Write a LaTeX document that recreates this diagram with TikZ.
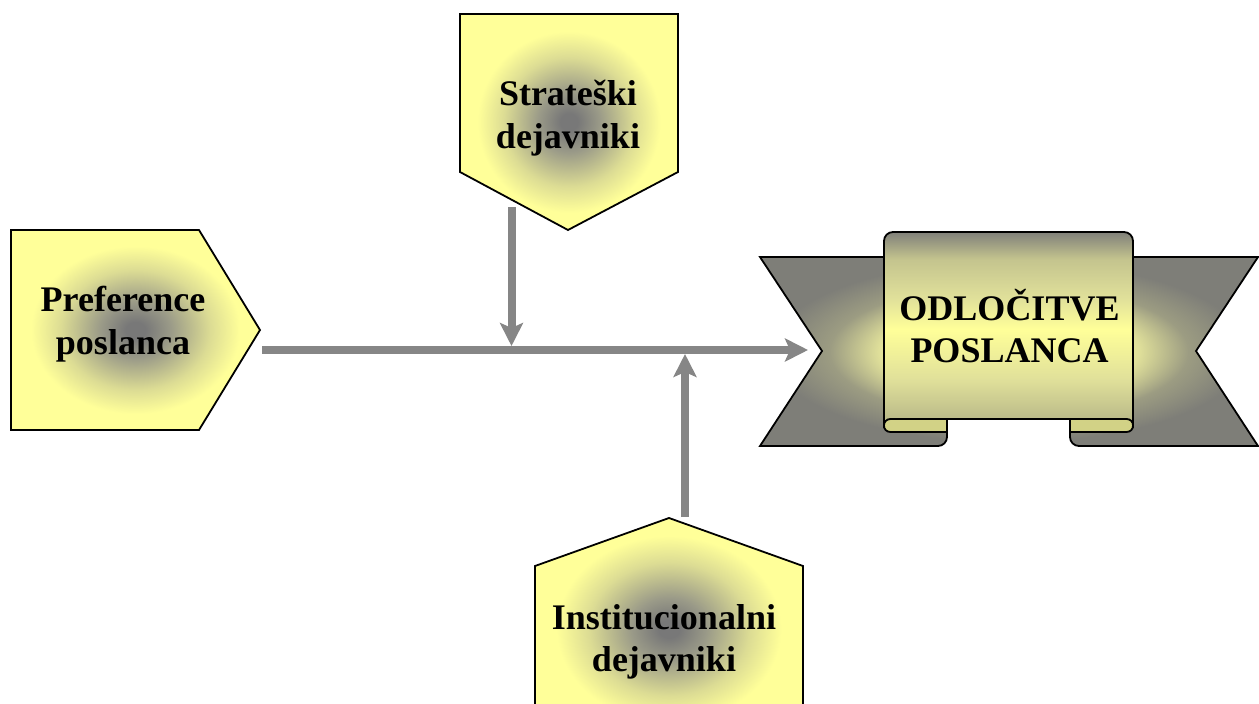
\documentclass[tikz,border=0pt]{standalone}
\usepackage{fontspec}
\setmainfont{Liberation Serif}
\usetikzlibrary{arrows.meta}
\definecolor{pyel}{HTML}{FFFF99}
\definecolor{pgray}{HTML}{787878}
\definecolor{pgray2}{HTML}{9A9A88}
\definecolor{pmid}{HTML}{DCDC94}
\definecolor{rgray}{HTML}{7E7E78}
\definecolor{rolive}{HTML}{9C9C82}
\definecolor{rlight}{HTML}{E0E09A}
\definecolor{ptop}{HTML}{80807A}
\definecolor{pup}{HTML}{C4C48E}
\definecolor{pbot}{HTML}{B4B486}
\definecolor{rollc}{HTML}{D2D286}
\definecolor{agray}{HTML}{868686}
\pgfdeclareradialshading{pentshade}{\pgfpoint{0bp}{0bp}}{color(0bp)=(pgray); color(2bp)=(pgray); color(7bp)=(pgray2); color(15bp)=(pmid); color(21bp)=(pyel); color(50bp)=(pyel)}
\pgfdeclareradialshading{tailshade}{\pgfpoint{0bp}{0bp}}{color(0bp)=(pyel); color(8bp)=(pyel); color(13bp)=(rlight); color(18bp)=(rolive); color(24bp)=(rgray); color(50bp)=(rgray)}
\pgfdeclareverticalshading{panelshade}{100bp}{color(0bp)=(pbot); color(25bp)=(pbot); color(37bp)=(rlight); color(50bp)=(pyel); color(58bp)=(rlight); color(68bp)=(pup); color(75bp)=(ptop); color(100bp)=(ptop)}
\begin{document}
\begin{tikzpicture}[x=1pt,y=-1pt,
  outline/.style={draw=black,line width=1.8pt,line join=miter},
  lbl/.style={font=\fontsize{36}{42.5}\selectfont\bfseries,align=center,inner sep=0pt,text=black},
  conn/.style={draw=agray,line width=8pt,-{Stealth[length=23pt,width=23pt,inset=5pt]}}]
\useasboundingbox (0,0) rectangle (1259,704);
\clip (0,0) rectangle (1259,704);
% pentagon shapes
\shadedraw[outline,shading=pentshade] (11,230) -- (199,230) -- (260,330) -- (199,430) -- (11,430) -- cycle;
\shadedraw[outline,shading=pentshade] (460,14) -- (678,14) -- (678,172) -- (568,230) -- (460,172) -- cycle;
\shadedraw[outline,shading=pentshade] (669,518) -- (803,566) -- (803,740) -- (535,740) -- (535,566) -- cycle;
% ribbon tails
\shadedraw[outline,shading=tailshade]
  (760,257) -- (890,257) -- (890,419) -- (947,419) -- (947,437) .. controls (947,442) and (943,446) .. (938,446) -- (760,446) -- (822,351) -- cycle
  (1258,257) -- (1127,257) -- (1127,419) -- (1070,419) -- (1070,437) .. controls (1070,442) and (1074,446) .. (1079,446) -- (1258,446) -- (1196,351) -- cycle;
% ribbon panel
\shadedraw[outline,shading=panelshade] (884,426) [rounded corners=9pt] -- (884,232) -- (1133,232) -- (1133,320) [sharp corners] -- (1133,426) -- (1126.5,419) -- (890.5,419) -- cycle;
% rolls
\filldraw[outline,fill=rollc] (947,419) -- (890.5,419) .. controls (881.8,419) and (881.8,432) .. (890.5,432) -- (947,432) -- cycle;
\filldraw[outline,fill=rollc] (1070,419) -- (1126.5,419) .. controls (1135.2,419) and (1135.2,432) .. (1126.5,432) -- (1070,432) -- cycle;
% labels
\node[lbl] (pref) at (123,324) {Preference\\poslanca};
\node[lbl] (strat) at (568,118) {Strateški\\dejavniki};
\node[lbl] (inst) at (664,642) {Institucionalni\\dejavniki};
\node[lbl] (odl) at (1009.5,326) {ODLOČITVE\\POSLANCA};
% connector end points
\coordinate (prefOut) at (262,350);
\coordinate (ribIn) at (808,350);
\coordinate (stratOut) at (511.5,207);
\coordinate (j1) at (511.5,346);
\coordinate (instOut) at (685,517);
\coordinate (j2) at (685,354);
\draw[conn] (prefOut) -- (ribIn);
\draw[conn] (stratOut) -- (j1);
\draw[conn] (instOut) -- (j2);
\end{tikzpicture}
\end{document}
